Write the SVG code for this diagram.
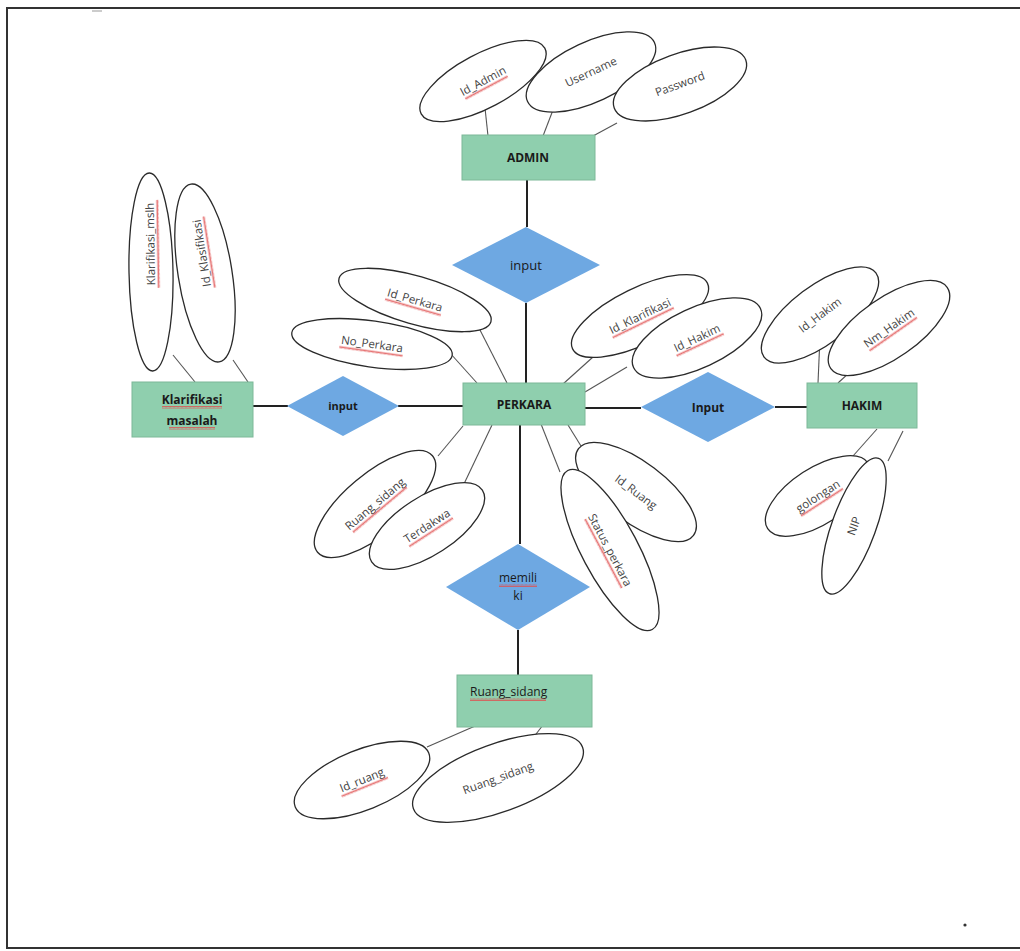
<svg xmlns="http://www.w3.org/2000/svg" width="1020" height="951" viewBox="0 0 1020 951">
  <defs>
    <!-- red wavy spell-check underline -->
    <pattern id="squig" width="4" height="3" patternUnits="userSpaceOnUse">
      <polyline points="0,2.5 1,0.5 2,2.5 3,0.5 4,2.5" fill="none" stroke="#e05050" stroke-width="0.8"/>
    </pattern>
  </defs>
  <style>
    .frame { fill: none; stroke: #333; stroke-width: 2; }
    .entity { fill: #8fcfae; stroke: #7db898; stroke-width: 1; }
    .rel { fill: #6ea8e2; stroke: none; }
    .attr { fill: #fff; stroke: #2a2a2a; stroke-width: 1.3; }
    .link { stroke: #222; stroke-width: 2; fill: none; }
    .alink { stroke: #555; stroke-width: 1.1; fill: none; }
    .etext { font-family: "Open Sans", "Liberation Sans", sans-serif; font-size: 12px; font-weight: bold; fill: #1a1a1a; text-anchor: middle; }
    .atext { font-family: "Open Sans", "Liberation Sans", sans-serif; font-size: 11.5px; fill: #444; text-anchor: middle; }
    .rtext { font-family: "Open Sans", "Liberation Sans", sans-serif; font-size: 13px; fill: #1a1a1a; text-anchor: middle; }
    .sq { fill: url(#squig); }
  </style>

  <rect width="1020" height="951" fill="#fff"/>
  <path class="frame" d="M6,8 H1020 M7,8 V948 H1020"/>
  <line x1="92" y1="11" x2="102" y2="11" stroke="#999" stroke-width="1"/>
  <circle cx="965" cy="925" r="1.6" fill="#333"/>

  <!-- connectors -->
  <g id="connectors">
    <line class="link" x1="527" y1="180" x2="527" y2="227"/>
    <line class="link" x1="526" y1="303" x2="526" y2="383"/>
    <line class="link" x1="253" y1="406" x2="288" y2="406"/>
    <line class="link" x1="398" y1="406" x2="463" y2="406"/>
    <line class="link" x1="585" y1="408" x2="641" y2="408"/>
    <line class="link" x1="775" y1="407" x2="807" y2="407"/>
    <line class="link" x1="520" y1="425" x2="520" y2="544"/>
    <line class="link" x1="518" y1="630" x2="518" y2="676"/>

    <line class="alink" x1="485" y1="108" x2="488" y2="136"/>
    <line class="alink" x1="553" y1="110" x2="543" y2="136"/>
    <line class="alink" x1="617" y1="123" x2="593" y2="136"/>

    <line class="alink" x1="173" y1="355" x2="195" y2="382"/>
    <line class="alink" x1="233" y1="360" x2="248" y2="382"/>

    <line class="alink" x1="480" y1="330" x2="507" y2="383"/>
    <line class="alink" x1="450" y1="353" x2="477" y2="383"/>
    <line class="alink" x1="593" y1="357" x2="563" y2="384"/>
    <line class="alink" x1="627" y1="367" x2="585" y2="392"/>

    <line class="alink" x1="438" y1="456" x2="463" y2="426"/>
    <line class="alink" x1="463" y1="486" x2="492" y2="425"/>
    <line class="alink" x1="541" y1="424" x2="560" y2="472"/>
    <line class="alink" x1="568" y1="425" x2="581" y2="446"/>

    <line class="alink" x1="820" y1="337" x2="818" y2="383"/>
    <line class="alink" x1="850" y1="372" x2="838" y2="383"/>
    <line class="alink" x1="853" y1="456" x2="877" y2="429"/>
    <line class="alink" x1="888" y1="461" x2="903" y2="431"/>

    <line class="alink" x1="427" y1="747" x2="482" y2="723"/>
    <line class="alink" x1="533" y1="738" x2="543" y2="725"/>
  </g>

  <!-- ADMIN entity and its attributes -->
  <g id="admin">
    <rect class="entity" x="462" y="135" width="133" height="45"/>
    <text class="etext" x="528" y="162">ADMIN</text>
  </g>
  <g id="attr-id-admin" transform="translate(483,81) rotate(-28)">
    <ellipse class="attr" rx="70" ry="27"/>
    <text class="atext" x="0" y="4">Id_Admin</text>
    <rect class="sq" x="-24" y="6" width="48" height="3"/>
  </g>
  <g id="attr-username" transform="translate(591,72) rotate(-25)">
    <ellipse class="attr" rx="70" ry="30"/>
    <text class="atext" x="0" y="4">Username</text>
  </g>
  <g id="attr-password" transform="translate(680,84) rotate(-20)">
    <ellipse class="attr" rx="70" ry="30"/>
    <text class="atext" x="0" y="4">Password</text>
  </g>

  <!-- relation ADMIN - PERKARA -->
  <g id="rel-input-top">
    <polygon class="rel" points="526,227 600,265 526,303 452,265"/>
    <text class="rtext" x="526" y="270">input</text>
  </g>

  <!-- Klarifikasi masalah entity -->
  <g id="klarifikasi">
    <rect class="entity" x="132" y="382" width="121" height="55"/>
    <text class="etext" x="192" y="404">Klarifikasi</text>
    <rect class="sq" x="162" y="406" width="60" height="3"/>
    <text class="etext" x="192" y="425">masalah</text>
    <rect class="sq" x="169" y="427" width="46" height="3"/>
  </g>
  <g id="attr-klarifikasi-mslh" transform="translate(151,272) rotate(-91)">
    <ellipse class="attr" rx="99" ry="22"/>
    <text class="atext" x="28" y="4">Klarifikasi_mslh</text>
    <rect class="sq" x="-16" y="6" width="88" height="3"/>
  </g>
  <g id="attr-id-klasifikasi" transform="translate(205,273) rotate(-99)">
    <ellipse class="attr" rx="90" ry="27"/>
    <text class="atext" x="20" y="4">Id_Klasifikasi</text>
    <rect class="sq" x="-16" y="6" width="72" height="3"/>
  </g>

  <!-- relation Klarifikasi - PERKARA -->
  <g id="rel-input-left">
    <polygon class="rel" points="343,376 399,406 343,436 287,406"/>
    <text class="etext" x="343" y="410" style="font-size:11px">input</text>
  </g>

  <!-- PERKARA entity and its attributes -->
  <g id="perkara">
    <rect class="entity" x="463" y="383" width="122" height="42"/>
    <text class="etext" x="524" y="409">PERKARA</text>
  </g>
  <g id="attr-id-perkara" transform="translate(415,300) rotate(16)">
    <ellipse class="attr" rx="79" ry="24"/>
    <text class="atext" x="0" y="4">Id_Perkara</text>
    <rect class="sq" x="-29" y="6" width="58" height="3"/>
  </g>
  <g id="attr-no-perkara" transform="translate(372,344) rotate(8)">
    <ellipse class="attr" rx="81" ry="23"/>
    <text class="atext" x="0" y="4">No_Perkara</text>
    <rect class="sq" x="-32" y="6" width="64" height="3"/>
  </g>
  <g id="attr-id-klarifikasi" transform="translate(640,316) rotate(-26)">
    <ellipse class="attr" rx="75" ry="28"/>
    <text class="atext" x="0" y="4">Id_Klarifikasi</text>
    <rect class="sq" x="-34" y="6" width="68" height="3"/>
  </g>
  <g id="attr-id-hakim-p" transform="translate(697,338) rotate(-25)">
    <ellipse class="attr" rx="70" ry="30"/>
    <text class="atext" x="0" y="4">Id_Hakim</text>
    <rect class="sq" x="-26" y="6" width="52" height="3"/>
  </g>
  <g id="attr-ruang-sidang-p" transform="translate(375,504) rotate(-40)">
    <ellipse class="attr" rx="75" ry="30"/>
    <text class="atext" x="0" y="4">Ruang_sidang</text>
    <rect class="sq" x="-35" y="6" width="70" height="3"/>
  </g>
  <g id="attr-terdakwa" transform="translate(427,526) rotate(-33)">
    <ellipse class="attr" rx="66" ry="29"/>
    <text class="atext" x="0" y="4">Terdakwa</text>
    <rect class="sq" x="-26" y="6" width="52" height="3"/>
  </g>
  <g id="attr-id-ruang" transform="translate(636,492) rotate(37)">
    <ellipse class="attr" rx="72" ry="30"/>
    <text class="atext" x="0" y="4">Id_Ruang</text>
  </g>
  <g id="attr-status-perkara" transform="translate(610,550) rotate(62)">
    <ellipse class="attr" rx="90" ry="28"/>
    <text class="atext" x="0" y="4">Status_perkara</text>
    <rect class="sq" x="-39" y="6" width="78" height="3"/>
  </g>

  <!-- relation PERKARA - HAKIM -->
  <g id="rel-input-right">
    <polygon class="rel" points="708,372 775,407 708,442 641,407"/>
    <text class="etext" x="708" y="412">Input</text>
  </g>

  <!-- HAKIM entity and its attributes -->
  <g id="hakim">
    <rect class="entity" x="807" y="383" width="110" height="45"/>
    <text class="etext" x="862" y="410">HAKIM</text>
  </g>
  <g id="attr-id-hakim" transform="translate(820,315) rotate(-37)">
    <ellipse class="attr" rx="70" ry="29"/>
    <text class="atext" x="0" y="4">Id_Hakim</text>
  </g>
  <g id="attr-nm-hakim" transform="translate(889,328) rotate(-35)">
    <ellipse class="attr" rx="71" ry="30"/>
    <text class="atext" x="0" y="4">Nm_Hakim</text>
    <rect class="sq" x="-29" y="6" width="58" height="3"/>
  </g>
  <g id="attr-golongan" transform="translate(818,496) rotate(-33)">
    <ellipse class="attr" rx="60" ry="28"/>
    <text class="atext" x="0" y="4">golongan</text>
    <rect class="sq" x="-25" y="6" width="50" height="3"/>
  </g>
  <g id="attr-nip" transform="translate(854,526) rotate(-70)">
    <ellipse class="attr" rx="72" ry="22"/>
    <text class="atext" x="0" y="4">NIP</text>
  </g>

  <!-- relation PERKARA - Ruang_sidang -->
  <g id="rel-memiliki">
    <polygon class="rel" points="518,544 590,587 518,630 446,587"/>
    <text class="rtext" x="518" y="582" style="font-size:12px">memili</text>
    <rect class="sq" x="499" y="584" width="38" height="3"/>
    <text class="rtext" x="518" y="600" style="font-size:12px">ki</text>
  </g>

  <!-- Ruang_sidang entity and its attributes -->
  <g id="ruang-sidang">
    <rect class="entity" x="457" y="675" width="135" height="52"/>
    <text class="atext" x="470" y="696" style="text-anchor:start;fill:#1a1a1a;font-size:12px">Ruang_sidang</text>
    <rect class="sq" x="470" y="698" width="76" height="3"/>
  </g>
  <g id="attr-id-ruang-r" transform="translate(362,780) rotate(-22)">
    <ellipse class="attr" rx="72" ry="30"/>
    <text class="atext" x="0" y="4">Id_ruang</text>
    <rect class="sq" x="-25" y="6" width="50" height="3"/>
  </g>
  <g id="attr-ruang-sidang-r" transform="translate(498,778) rotate(-20)">
    <ellipse class="attr" rx="90" ry="34"/>
    <text class="atext" x="0" y="4">Ruang_sidang</text>
  </g>
</svg>
